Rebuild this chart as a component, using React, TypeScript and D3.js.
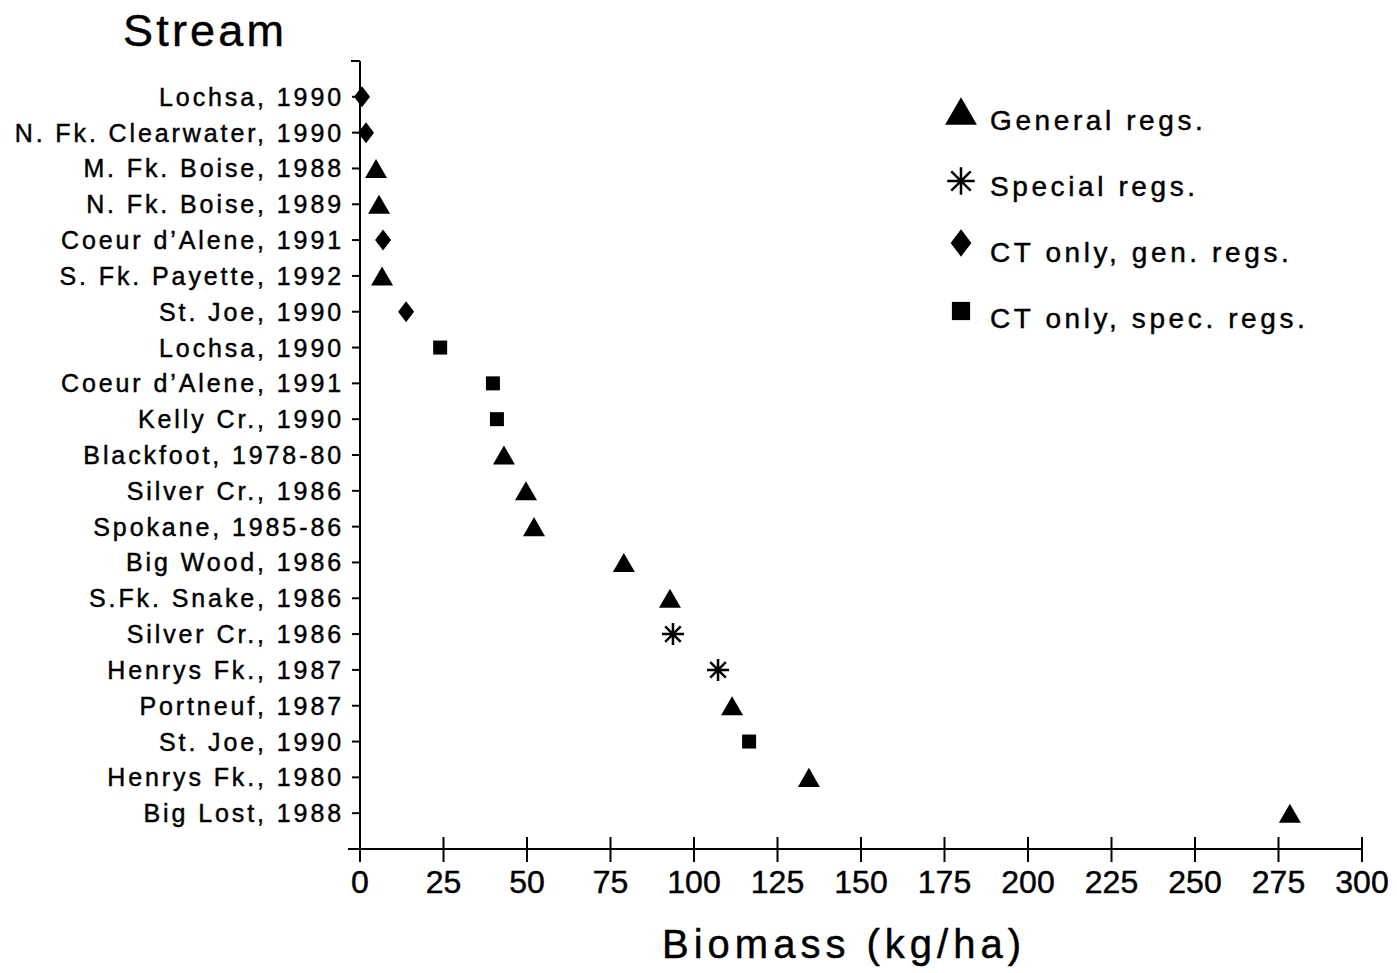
import React, { useEffect, useRef } from "react";
import * as d3 from "d3";

const streams = [
  "Lochsa, 1990",
  "N. Fk. Clearwater, 1990",
  "M. Fk. Boise, 1988",
  "N. Fk. Boise, 1989",
  "Coeur d\u2019Alene, 1991",
  "S. Fk. Payette, 1992",
  "St. Joe, 1990",
  "Lochsa, 1990 ",
  "Coeur d\u2019Alene, 1991 ",
  "Kelly Cr., 1990",
  "Blackfoot, 1978-80",
  "Silver Cr., 1986",
  "Spokane, 1985-86",
  "Big Wood, 1986",
  "S.Fk. Snake, 1986",
  "Silver Cr., 1986 ",
  "Henrys Fk., 1987",
  "Portneuf, 1987",
  "St. Joe, 1990 ",
  "Henrys Fk., 1980",
  "Big Lost, 1988",
];

const biomass = [
  0.6, 1.8, 4.8, 5.7, 6.9, 6.6, 13.8, 24, 39.8, 41, 43.1, 49.7, 52.1, 79, 92.8,
  93.7, 107.2, 111.4, 116.5, 134.4, 278.4,
];

// G = general regs, S = special regs, CG = CT only gen., CS = CT only spec.
const groups = [
  "CG", "CG", "G", "G", "CG", "G", "CG", "CS", "CS", "CS", "G", "G", "G", "G",
  "G", "S", "S", "G", "CS", "G", "G",
];

const legendKeys = ["G", "S", "CG", "CS"];
const legendLabels = [
  "General regs.",
  "Special regs.",
  "CT only, gen. regs.",
  "CT only, spec. regs.",
];

const xTicks = d3.range(0, 301, 25);

const FONT = "'Liberation Sans', Arial, sans-serif";

function asteriskPath(r: number) {
  const p = d3.path();
  for (let i = 0; i < 4; i++) {
    const a = (i * Math.PI) / 4;
    p.moveTo(-r * Math.cos(a), -r * Math.sin(a));
    p.lineTo(r * Math.cos(a), r * Math.sin(a));
  }
  return p.toString();
}

function diamondPath(w: number, h: number) {
  const p = d3.path();
  p.moveTo(0, -h / 2);
  p.lineTo(w / 2, 0);
  p.lineTo(0, h / 2);
  p.lineTo(-w / 2, 0);
  p.closePath();
  return p.toString();
}

function drawMarker(
  g: d3.Selection<SVGGElement, unknown, null, undefined>,
  key: string,
  cx: number,
  cy: number,
  k = 1
) {
  if (key === "S") {
    g.append("path")
      .attr("transform", `translate(${cx},${cy})`)
      .attr("d", asteriskPath(11 * k))
      .attr("stroke", "#000")
      .attr("stroke-width", 2.5)
      .attr("fill", "none");
    return;
  }
  let d = "";
  let dy = 0;
  if (key === "G") {
    const side = 22 * k;
    d = d3.symbol(d3.symbolTriangle, (Math.sqrt(3) / 4) * side * side)() ?? "";
    // d3 centres the triangle on its centroid; nudge so the box sits on the tick
    dy = (side * Math.sqrt(3)) / 12;
  } else if (key === "CG") {
    d = diamondPath(16 * k, 21 * k);
  } else {
    d = d3.symbol(d3.symbolSquare, 14 * k * 14 * k)() ?? "";
  }
  g.append("path")
    .attr("transform", `translate(${cx},${cy + dy})`)
    .attr("d", d)
    .attr("fill", "#000");
}

const StreamChart: React.FC = () => {
  const ref = useRef<SVGSVGElement | null>(null);

  useEffect(() => {
    const svg = d3.select(ref.current);
    svg.selectAll("*").remove();

    const left = 360;
    const right = 1362;
    const top = 61;
    const bottom = 849;

    const x = d3.scaleLinear().domain([0, 300]).range([left, right]);
    const y = d3
      .scalePoint<string>()
      .domain(streams)
      .range([top, bottom])
      .padding(1);

    const g = svg.append("g");

    const txt = (sel: d3.Selection<SVGTextElement, unknown, null, undefined>) =>
      sel
        .attr("font-family", FONT)
        .attr("fill", "#000")
        .attr("stroke", "#000")
        .attr("stroke-width", 0.45);

    // title
    g.append("text")
      .attr("x", 123)
      .attr("y", 46)
      .attr("font-size", 45)
      .attr("letter-spacing", 3.2)
      .call(txt)
      .text("Stream");

    // y axis
    g.append("line")
      .attr("x1", left)
      .attr("x2", left)
      .attr("y1", top)
      .attr("y2", bottom + 13)
      .attr("stroke", "#000")
      .attr("stroke-width", 2);
    g.append("line")
      .attr("x1", left - 9)
      .attr("x2", left)
      .attr("y1", top)
      .attr("y2", top)
      .attr("stroke", "#000")
      .attr("stroke-width", 2);

    streams.forEach((s) => {
      const yy = y(s) ?? 0;
      g.append("line")
        .attr("x1", left - 8)
        .attr("x2", left)
        .attr("y1", yy)
        .attr("y2", yy)
        .attr("stroke", "#000")
        .attr("stroke-width", 2);
      g.append("text")
        .attr("x", left - 16)
        .attr("y", yy)
        .attr("dy", "0.36em")
        .attr("text-anchor", "end")
        .attr("font-size", 25)
        .attr("letter-spacing", 2.9)
        .call(txt)
        .text(s.trim());
    });

    // x axis
    g.append("line")
      .attr("x1", left - 12)
      .attr("x2", right)
      .attr("y1", bottom)
      .attr("y2", bottom)
      .attr("stroke", "#000")
      .attr("stroke-width", 2);

    xTicks.forEach((v) => {
      g.append("line")
        .attr("x1", x(v))
        .attr("x2", x(v))
        .attr("y1", bottom - 12)
        .attr("y2", bottom + 13)
        .attr("stroke", "#000")
        .attr("stroke-width", 2);
      g.append("text")
        .attr("x", x(v))
        .attr("y", 893)
        .attr("text-anchor", "middle")
        .attr("font-size", 32)
        .call(txt)
        .text(v);
    });

    g.append("text")
      .attr("x", 844)
      .attr("y", 958)
      .attr("text-anchor", "middle")
      .attr("font-size", 40)
      .attr("letter-spacing", 5)
      .call(txt)
      .text("Biomass (kg/ha)");

    // points
    streams.forEach((s, i) => {
      drawMarker(g, groups[i], x(biomass[i]), y(s) ?? 0);
    });

    // legend
    const legendMarkY = [111, 181, 243, 311];
    legendKeys.forEach((k, i) => {
      const ly = 120 + i * 66;
      drawMarker(g, k, 961, legendMarkY[i], k === "G" ? 1.45 : k === "S" ? 1.25 : 1.3);
      g.append("text")
        .attr("x", 990)
        .attr("y", ly)
        .attr("dy", "0.36em")
        .attr("font-size", 28)
        .attr("letter-spacing", 3.6)
        .call(txt)
        .text(legendLabels[i]);
    });
  }, []);

  return (
    <svg
      ref={ref}
      width={1397}
      height={973}
      style={{ position: "absolute", left: 0, top: 0, background: "#fff" }}
    />
  );
};

export default function App() {
  return <StreamChart />;
}
